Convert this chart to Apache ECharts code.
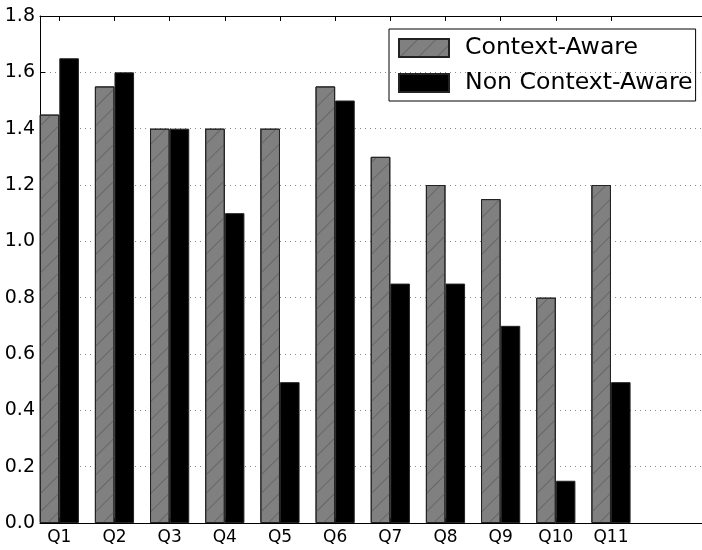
<!DOCTYPE html>
<html>
<head>
<meta charset="utf-8">
<script src="https://cdn.jsdelivr.net/npm/echarts@6/dist/echarts.min.js"></script>
<style>
  html, body { margin: 0; padding: 0; background: #fff; }
  #chart { width: 702px; height: 550px; }
</style>
</head>
<body>
<div id="chart"></div>
<script>
const categories = ["Q1", "Q2", "Q3", "Q4", "Q5", "Q6", "Q7", "Q8", "Q9", "Q10", "Q11"];
const contextAware = [1.45, 1.55, 1.40, 1.40, 1.40, 1.55, 1.30, 1.20, 1.15, 0.80, 1.20];
const nonContextAware = [1.65, 1.60, 1.40, 1.10, 0.50, 1.50, 0.85, 0.85, 0.70, 0.15, 0.50];
const yTicks = [0, 0.2, 0.4, 0.6, 0.8, 1.0, 1.2, 1.4, 1.6, 1.8];

// matplotlib style layout: bar width 0.35, group centre at i + 0.35
const offset = 0.35;
const tickPos = categories.map((c, i) => i + offset);

function labelFor(v) {
  const i = Math.round(v - offset);
  return categories[i] || "";
}

const chart = echarts.init(document.getElementById("chart"));

chart.setOption({
  animation: false,
  textStyle: { fontFamily: "DejaVu Sans" },
  grid: { left: 40, top: 16, width: 672, height: 507 },
  legend: {
    orient: "vertical",
    left: 389,
    top: 29,
    padding: [6, 3, 5, 9],
    itemWidth: 50,
    itemHeight: 18,
    itemGap: 9,
    borderColor: "#000",
    borderWidth: 1,
    icon: "rect",
    textStyle: { fontSize: 23.6, lineHeight: 26, color: "#000", padding: [0, 0, 0, 11] },
    data: ["Context-Aware", "Non Context-Aware"],
  },
  xAxis: [
    {
      type: "value",
      min: 0,
      max: 12,
      position: "bottom",
      axisLine: { lineStyle: { color: "#000", width: 1 } },
      axisTick: { inside: true, length: 5, customValues: tickPos, lineStyle: { color: "#000" } },
      axisLabel: {
        customValues: tickPos,
        formatter: labelFor,
        fontSize: 17,
        color: "#000",
        margin: 6,
      },
      splitLine: { show: false },
    },
    {
      type: "value",
      min: 0,
      max: 12,
      position: "top",
      axisLine: { lineStyle: { color: "#000", width: 1 } },
      axisTick: { inside: true, length: 5, customValues: tickPos, lineStyle: { color: "#000" } },
      axisLabel: { show: false },
      splitLine: { show: false },
    },
  ],
  yAxis: {
    type: "value",
    min: 0,
    max: 1.8,
    interval: 0.2,
    axisLine: { show: true, lineStyle: { color: "#000", width: 1 } },
    axisTick: { show: true, inside: true, length: 5, lineStyle: { color: "#000" } },
    axisLabel: {
      customValues: yTicks,
      formatter: (v) => v.toFixed(1),
      fontSize: 19,
      color: "#000",
      margin: 5,
    },
    splitLine: { show: true, lineStyle: { color: "#888", type: [1, 4], width: 1 } },
  },
  series: [
    {
      name: "Context-Aware",
      type: "bar",
      barWidth: 19.6,
      barGap: "0%",
      data: contextAware.map((v, i) => [tickPos[i], v]),
      itemStyle: {
        color: "#808080",
        borderColor: "#222",
        borderWidth: 1,
        decal: {
          symbol: "rect",
          symbolSize: 1,
          dashArrayX: [1, 0],
          dashArrayY: [1, 12],
          rotation: -Math.PI / 4,
          color: "#666",
        },
      },
    },
    {
      name: "Non Context-Aware",
      type: "bar",
      barWidth: 19.6,
      barGap: "0%",
      data: nonContextAware.map((v, i) => [tickPos[i], v]),
      itemStyle: { color: "#000", borderColor: "#222", borderWidth: 1 },
    },
  ],
});

window.addEventListener("resize", () => chart.resize());
</script>
</body>
</html>
